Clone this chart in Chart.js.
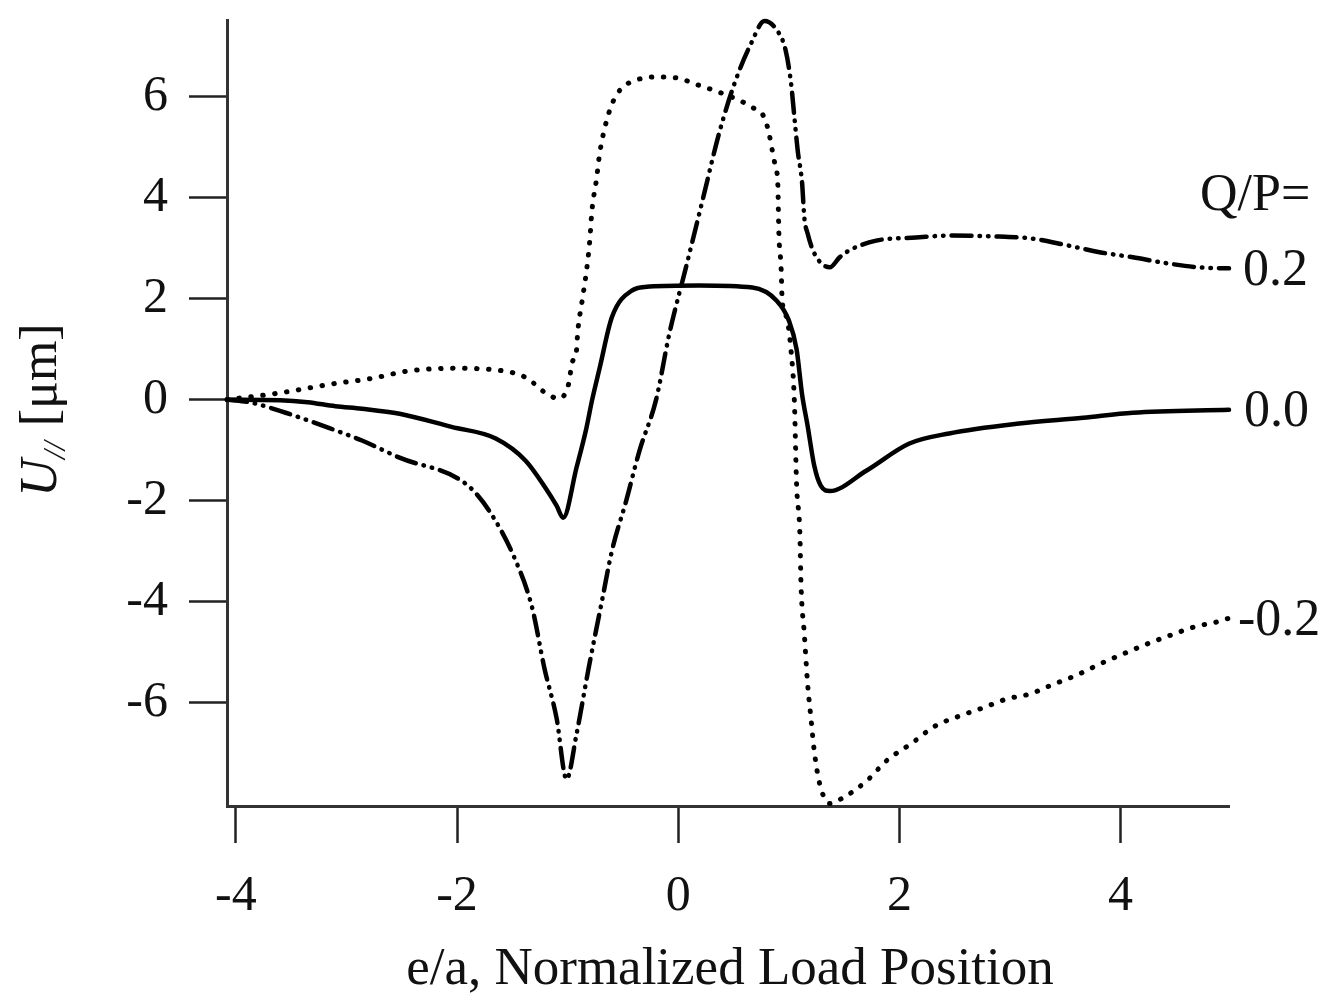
<!DOCTYPE html>
<html><head><meta charset="utf-8">
<script src="https://cdn.jsdelivr.net/npm/chart.js@4.4.0/dist/chart.umd.min.js"></script>
<style>html,body{margin:0;padding:0;background:#fff;} canvas{display:block;}</style>
</head><body>
<canvas id="c" width="1333" height="996"></canvas>
<script>
// ---- data ----
const xTicks = [-4, -2, 0, 2, 4];
const yTicks = [-6, -4, -2, 0, 2, 4, 6];
const seriesNames = ["0.2", "0.0", "-0.2"];

// Q/P = 0.0 (solid)
const qp00X = [-4.08,-3.60,-3.35,-3.10,-2.86,-2.52,-2.05,-1.65,-1.38,-1.20,-1.10,-1.04,-0.92,-0.83,-0.78,-0.71,-0.60,-0.42,-0.26,0.19,0.67,0.89,1.00,1.07,1.12,1.17,1.23,1.29,1.37,1.70,2.09,2.45,3.06,3.66,4.11,4.98];
const qp00Y = [0,-0.01,-0.05,-0.13,-0.18,-0.28,-0.54,-0.77,-1.21,-1.75,-2.10,-2.34,-1.35,-0.56,-0.02,0.63,1.63,2.16,2.24,2.26,2.22,1.96,1.57,1.00,0.10,-0.52,-1.31,-1.71,-1.81,-1.41,-0.87,-0.67,-0.48,-0.36,-0.26,-0.20];

// Q/P = 0.2 (dash-dot-dot)
const qp02X = [-4.08,-3.86,-3.55,-3.16,-2.86,-2.52,-1.92,-1.71,-1.47,-1.32,-1.21,-1.10,-1.01,-0.92,-0.81,-0.69,-0.60,-0.47,-0.35,-0.20,-0.08,0.07,0.22,0.37,0.51,0.66,0.78,0.91,0.97,1.02,1.05,1.08,1.12,1.14,1.17,1.23,1.37,1.46,1.55,1.79,2.15,2.45,2.90,3.20,3.51,3.81,4.11,4.42,4.71,4.98];
const qp02Y = [0,-0.06,-0.26,-0.56,-0.81,-1.15,-1.67,-2.20,-3.19,-4.13,-5.32,-6.31,-7.52,-6.63,-5.32,-3.99,-3.00,-2.00,-1.01,0.00,1.31,2.62,3.95,5.28,6.27,7.06,7.50,7.26,6.93,6.27,5.60,4.94,4.29,3.61,3.29,2.90,2.62,2.82,2.96,3.15,3.21,3.25,3.23,3.19,3.06,2.92,2.82,2.70,2.62,2.60];

// Q/P = -0.2 (dotted)
const qpm02X = [-4.08,-3.64,-3.10,-2.77,-2.46,-2.05,-1.62,-1.38,-1.19,-1.08,-0.99,-0.96,-0.92,-0.91,-0.87,-0.83,-0.80,-0.78,-0.74,-0.71,-0.66,-0.60,-0.52,-0.38,-0.22,0.00,0.13,0.37,0.55,0.67,0.78,0.82,0.85,0.88,0.90,0.91,0.93,0.94,0.98,1.02,1.05,1.07,1.10,1.11,1.14,1.17,1.20,1.23,1.28,1.37,1.48,1.70,1.89,2.11,2.32,2.54,2.75,2.97,3.18,3.38,3.60,3.81,4.02,4.24,4.46,4.67,4.88,4.98];
const qpm02Y = [0,0.12,0.32,0.42,0.56,0.62,0.58,0.44,0.12,0.02,0.32,0.73,0.97,1.31,1.94,2.54,3.15,3.75,4.35,4.88,5.42,5.85,6.15,6.33,6.39,6.37,6.27,6.09,5.93,5.79,5.58,5.28,4.94,4.60,4.29,3.29,2.62,1.96,1.63,0.97,-0.02,-1.67,-2.66,-3.65,-4.64,-5.63,-6.31,-6.96,-7.62,-8.00,-7.90,-7.56,-7.14,-6.81,-6.47,-6.27,-6.11,-5.93,-5.83,-5.65,-5.46,-5.24,-5.04,-4.84,-4.66,-4.50,-4.40,-4.33];

const toPts = (xs, ys) => xs.map((x, i) => ({x: x, y: ys[i]}));

const SERIF = "'Liberation Serif', 'Times New Roman', serif";

const textPlugin = {
  id: 'textPlugin',
  afterDraw(chart) {
    const ctx = chart.ctx;
    const ca = chart.chartArea;
    const ys = chart.scales.y;
    ctx.save();
    ctx.fillStyle = '#111';
    // x-axis title
    ctx.font = "53px " + SERIF;
    ctx.textAlign = 'center';
    ctx.textBaseline = 'alphabetic';
    ctx.fillText('e/a, Normalized Load Position', (ca.left + ca.right) / 2 + 2, 984);
    // series labels
    ctx.font = "52px " + SERIF;
    ctx.textAlign = 'left';
    ctx.textBaseline = 'middle';
    const ends = [qp02Y[qp02Y.length - 1], qp00Y[qp00Y.length - 1], qpm02Y[qpm02Y.length - 1]];
    const offs = [14, 15, 9];
    seriesNames.forEach((n, i) => {
      ctx.fillText(n, ca.right + offs[i], ys.getPixelForValue(ends[i]) + 3);
    });
    ctx.fillText('Q/P=', ca.right - 29, ys.getPixelForValue(ends[0]) - 72);
    // y-axis title (rotated)
    ctx.translate(56, 410);
    ctx.rotate(-Math.PI / 2);
    ctx.textBaseline = 'alphabetic';
    ctx.textAlign = 'left';
    const fMain = "italic 52px " + SERIF;
    const fSub = "italic 32px " + SERIF;
    const fReg = "52px " + SERIF;
    ctx.font = fMain; const wU = ctx.measureText('U').width;
    ctx.font = fSub; const wS = ctx.measureText('//').width;
    ctx.font = fReg; const wR = ctx.measureText(' [\u03bcm]').width;
    let x0 = -(wU + wS + 2 + wR) / 2;
    ctx.font = fMain; ctx.fillText('U', x0, 0); x0 += wU;
    ctx.font = fSub; ctx.fillText('//', x0, 9); x0 += wS + 2;
    ctx.font = fReg; ctx.fillText(' [\u03bcm]', x0, 0);
    ctx.restore();
  }
};

const common = {borderColor: '#000', pointRadius: 0, fill: false, cubicInterpolationMode: 'monotone', borderCapStyle: 'round', borderJoinStyle: 'round', clip: false};

new Chart(document.getElementById('c'), {
  type: 'line',
  data: {
    datasets: [
      Object.assign({label: 'Q/P=0.2', data: toPts(qp02X, qp02Y), borderWidth: 4.5, borderDash: [20, 8, 0.5, 8, 0.5, 8]}, common),
      Object.assign({label: 'Q/P=0.0', data: toPts(qp00X, qp00Y), borderWidth: 4.5}, common),
      Object.assign({label: 'Q/P=-0.2', data: toPts(qpm02X, qpm02Y), borderWidth: 5, borderDash: [0.5, 11.5]}, common)
    ]
  },
  options: {
    responsive: false,
    animation: false,
    devicePixelRatio: 1,
    layout: {padding: {left: 0, right: 104, top: 20, bottom: 0}},
    plugins: {legend: {display: false}, tooltip: {enabled: false}, title: {display: false}},
    scales: {
      x: {
        type: 'linear', min: -4.08, max: 4.98,
        afterFit: (a) => { a.height = 190; a.paddingLeft = 0; a.paddingRight = 0; },
        afterBuildTicks: (a) => { a.ticks = xTicks.map(v => ({value: v})); },
        grid: {drawOnChartArea: false, drawTicks: true, tickLength: 37, tickWidth: 2.5, tickColor: '#222'},
        border: {display: true, width: 3, color: '#333'},
        ticks: {font: {family: SERIF, size: 50}, color: '#111', padding: 24, maxRotation: 0, autoSkip: false}
      },
      y: {
        type: 'linear', min: -8.05, max: 7.52,
        afterFit: (a) => { a.width = 227; a.paddingTop = 0; a.paddingBottom = 0; },
        afterBuildTicks: (a) => { a.ticks = yTicks.map(v => ({value: v})); },
        grid: {drawOnChartArea: false, drawTicks: true, tickLength: 38, tickWidth: 2.5, tickColor: '#222'},
        border: {display: true, width: 3, color: '#333'},
        ticks: {font: {family: SERIF, size: 50}, color: '#111', padding: 21, autoSkip: false}
      }
    }
  },
  plugins: [textPlugin]
});
</script>
</body></html>
